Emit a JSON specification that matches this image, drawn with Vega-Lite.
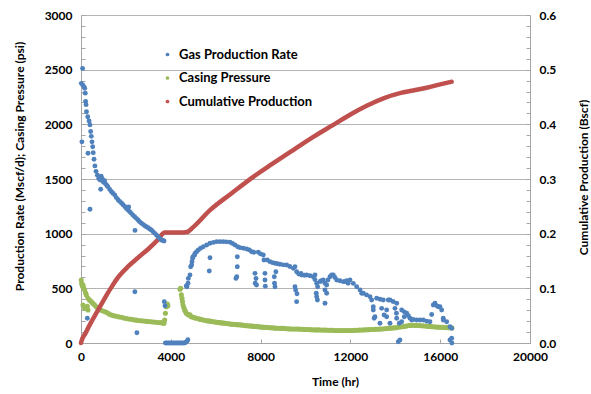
{
  "$schema": "https://vega.github.io/schema/vega-lite/v6.json",
  "autosize": {"type": "none"},
  "padding": {"left": 81, "top": 15, "right": 61, "bottom": 51},
  "width": 449,
  "height": 328,
  "config": {
    "view": {"stroke": null},
    "font": "Lato",
    "axis": {
      "labelFont": "Lato", "labelFontSize": 12, "labelFontWeight": "bold", "labelColor": "#000000",
      "titleFont": "Lato", "titleFontSize": 12, "titleFontWeight": "bold", "titleColor": "#000000",
      "domainColor": "#a6a6a6", "tickColor": "#a6a6a6", "gridColor": "#b4b4b4",
      "labelOverlap": false, "labelFlush": false
    },
    "legend": {
      "orient": "none", "legendX": 80, "legendY": 33, "padding": 0,
      "symbolType": "circle", "symbolSize": 14, "symbolStrokeWidth": 0, "labelOffset": 5,
      "labelFont": "Lato", "labelFontSize": 13, "labelFontWeight": "bold", "labelColor": "#000000",
      "rowPadding": 9.5, "title": null
    }
  },
  "datasets": {
    "rate": [
      {"t":15,"v":2375},{"t":40,"v":1840},{"t":70,"v":2510},{"t":75,"v":2360},{"t":130,"v":2345},{"t":165,"v":2330},{"t":190,"v":2285},{"t":205,"v":2210},{"t":225,"v":2180},{"t":245,"v":2115},{"t":282,"v":226},{"t":300,"v":2070},{"t":312,"v":1735},{"t":360,"v":2030},{"t":400,"v":1995},{"t":400,"v":1223},{"t":430,"v":1935},{"t":460,"v":1890},{"t":490,"v":1840},{"t":520,"v":1795},{"t":545,"v":1740},{"t":580,"v":1680},{"t":620,"v":1620},{"t":670,"v":1570},{"t":730,"v":1535},{"t":790,"v":1505},{"t":850,"v":1490},{"t":877,"v":1406},{"t":900,"v":1525},{"t":950,"v":1500},{"t":1000,"v":1470},{"t":1050,"v":1485},{"t":1100,"v":1455},{"t":1150,"v":1440},{"t":1200,"v":1430},{"t":1280,"v":1405},{"t":1350,"v":1385},{"t":1420,"v":1370},{"t":1500,"v":1355},{"t":1570,"v":1330},{"t":1650,"v":1310},{"t":1720,"v":1295},{"t":1800,"v":1280},{"t":1870,"v":1265},{"t":1950,"v":1248},{"t":2020,"v":1230},{"t":2093,"v":1216},{"t":2124,"v":1245},{"t":2170,"v":1200},{"t":2240,"v":1186},{"t":2310,"v":1170},{"t":2390,"v":1155},{"t":2405,"v":1030},{"t":2400,"v":469},{"t":2465,"v":1140},{"t":2490,"v":94},{"t":2540,"v":1125},{"t":2610,"v":1110},{"t":2690,"v":1095},{"t":2760,"v":1085},{"t":2840,"v":1073},{"t":2910,"v":1063},{"t":2985,"v":1054},{"t":3060,"v":1043},{"t":3130,"v":1033},{"t":3210,"v":1018},{"t":3285,"v":1003},{"t":3360,"v":988},{"t":3430,"v":972},{"t":3500,"v":957},{"t":3580,"v":942},{"t":3650,"v":938},{"t":3700,"v":933},{"t":3710,"v":378},{"t":3740,"v":340},
      {"t":3760,"v":0},{"t":3830,"v":0},{"t":3900,"v":0},{"t":3970,"v":0},{"t":4040,"v":0},{"t":4110,"v":0},{"t":4180,"v":0},{"t":4250,"v":0},{"t":4320,"v":0},{"t":4390,"v":0},{"t":4460,"v":0},{"t":4530,"v":0},{"t":4600,"v":0},{"t":4660,"v":5},{"t":4720,"v":15},{"t":4760,"v":30},
      {"t":4690,"v":521},{"t":4720,"v":515},{"t":4766,"v":546},{"t":4780,"v":591},{"t":4855,"v":622},{"t":4884,"v":698},{"t":4929,"v":713},{"t":4944,"v":744},{"t":4973,"v":775},{"t":4988,"v":789},{"t":5064,"v":805},{"t":5078,"v":820},{"t":5150,"v":835},{"t":5226,"v":851},{"t":5330,"v":866},{"t":5449,"v":881},{"t":5600,"v":897},{"t":5714,"v":658},{"t":5746,"v":780},{"t":5746,"v":912},{"t":5900,"v":920},{"t":6044,"v":927},{"t":6190,"v":927},{"t":6338,"v":927},{"t":6480,"v":925},{"t":6637,"v":921},{"t":6750,"v":910},{"t":6860,"v":896},{"t":6963,"v":789},{"t":6963,"v":698},{"t":6940,"v":606},{"t":6900,"v":591},{"t":6980,"v":880},{"t":7082,"v":872},{"t":7230,"v":866},{"t":7381,"v":860},{"t":7500,"v":850},{"t":7603,"v":835},{"t":7700,"v":830},{"t":7750,"v":637},{"t":7760,"v":546},{"t":7795,"v":590},{"t":7820,"v":530},{"t":7897,"v":830},{"t":8000,"v":815},{"t":8120,"v":805},{"t":8150,"v":759},{"t":8195,"v":637},{"t":8195,"v":576},{"t":8210,"v":520},{"t":8298,"v":759},{"t":8418,"v":744},{"t":8530,"v":735},{"t":8610,"v":606},{"t":8620,"v":546},{"t":8641,"v":515},{"t":8641,"v":729},{"t":8680,"v":652},{"t":8750,"v":725},{"t":8863,"v":720},{"t":9010,"v":715},{"t":9162,"v":713},{"t":9300,"v":700},{"t":9456,"v":683},{"t":9532,"v":698},{"t":9532,"v":515},{"t":9560,"v":485},{"t":9605,"v":652},{"t":9605,"v":378},{"t":9620,"v":450},{"t":9700,"v":630},{"t":9800,"v":637},{"t":9829,"v":622},{"t":9950,"v":620},{"t":10052,"v":622},{"t":10200,"v":615},{"t":10349,"v":606},{"t":10423,"v":622},{"t":10420,"v":580},{"t":10480,"v":455},{"t":10498,"v":546},{"t":10498,"v":424},{"t":10530,"v":393},{"t":10540,"v":515},{"t":10645,"v":561},{"t":10700,"v":570},{"t":10792,"v":576},{"t":10868,"v":546},{"t":10868,"v":485},{"t":10868,"v":363},{"t":10943,"v":530},{"t":10943,"v":455},{"t":11000,"v":576},{"t":11090,"v":606},{"t":11165,"v":622},{"t":11238,"v":622},{"t":11310,"v":600},{"t":11387,"v":576},{"t":11530,"v":570},{"t":11683,"v":561},{"t":11759,"v":561},{"t":11830,"v":570},{"t":11900,"v":546},{"t":11981,"v":576},{"t":12130,"v":545},{"t":12280,"v":515},{"t":12430,"v":485},{"t":12502,"v":455},{"t":12574,"v":455},{"t":12720,"v":440},{"t":12872,"v":424},{"t":12948,"v":393},{"t":13019,"v":332},{"t":13019,"v":302},{"t":13060,"v":226},{"t":13095,"v":240},{"t":13170,"v":409},{"t":13317,"v":180},{"t":13320,"v":400},{"t":13393,"v":317},{"t":13465,"v":393},{"t":13500,"v":256},{"t":13616,"v":240},{"t":13616,"v":302},{"t":13689,"v":393},{"t":13763,"v":393},{"t":13763,"v":180},{"t":13900,"v":380},{"t":13986,"v":317},{"t":14050,"v":272},{"t":14061,"v":363},{"t":14061,"v":226},{"t":14133,"v":12},{"t":14180,"v":180},{"t":14208,"v":27},{"t":14284,"v":302},{"t":14284,"v":195},{"t":14400,"v":285},{"t":14400,"v":240},{"t":14507,"v":272},{"t":14580,"v":250},{"t":14654,"v":226},{"t":14730,"v":210},{"t":14800,"v":215},{"t":14952,"v":210},{"t":15100,"v":210},{"t":15246,"v":210},{"t":15400,"v":200},{"t":15545,"v":195},{"t":15620,"v":260},{"t":15692,"v":348},{"t":15767,"v":363},{"t":15850,"v":340},{"t":15915,"v":332},{"t":15990,"v":332},{"t":16066,"v":302},{"t":16137,"v":226},{"t":16137,"v":210},{"t":16288,"v":195},{"t":16435,"v":149},{"t":16511,"v":134},{"t":16435,"v":27},{"t":16511,"v":43},{"t":16520,"v":0}
    ],
    "pres": [
      {"t":10,"v":576},{"t":30,"v":545},{"t":60,"v":520},{"t":89,"v":530},{"t":89,"v":348},{"t":120,"v":505},{"t":163,"v":485},{"t":163,"v":317},{"t":200,"v":460},{"t":238,"v":440},{"t":280,"v":335},{"t":312,"v":409},{"t":312,"v":302},{"t":380,"v":392},{"t":460,"v":378},{"t":530,"v":362},{"t":608,"v":348},{"t":680,"v":332},{"t":757,"v":317},{"t":850,"v":305},{"t":950,"v":295},{"t":1054,"v":287},{"t":1150,"v":278},{"t":1250,"v":266},{"t":1351,"v":256},{"t":1450,"v":250},{"t":1570,"v":244},{"t":1680,"v":239},{"t":1797,"v":235},{"t":1910,"v":229},{"t":2020,"v":224},{"t":2130,"v":220},{"t":2243,"v":217},{"t":2350,"v":213},{"t":2460,"v":209},{"t":2570,"v":206},{"t":2686,"v":204},{"t":2800,"v":201},{"t":2910,"v":198},{"t":3020,"v":196},{"t":3131,"v":195},{"t":3240,"v":192},{"t":3350,"v":190},{"t":3460,"v":188},{"t":3577,"v":186},{"t":3650,"v":183},{"t":3697,"v":180},{"t":3728,"v":210},{"t":3760,"v":272},{"t":3800,"v":332},{"t":3846,"v":357},{"t":3870,"v":340},
      {"t":4410,"v":491},{"t":4440,"v":500},{"t":4470,"v":440},{"t":4498,"v":409},{"t":4520,"v":380},{"t":4543,"v":348},{"t":4580,"v":325},{"t":4618,"v":302},{"t":4650,"v":290},{"t":4690,"v":272},{"t":4760,"v":262},{"t":4800,"v":255},{"t":4855,"v":258},{"t":4913,"v":240},{"t":5000,"v":236},{"t":5070,"v":230},{"t":5135,"v":226},{"t":5250,"v":222},{"t":5320,"v":216},{"t":5400,"v":212},{"t":5500,"v":208},{"t":5598,"v":204},{"t":5680,"v":202},{"t":5750,"v":200},{"t":5820,"v":196},{"t":5900,"v":194},{"t":5980,"v":192},{"t":6050,"v":190},{"t":6120,"v":188},{"t":6191,"v":186},{"t":6270,"v":184},{"t":6350,"v":182},{"t":6420,"v":180},{"t":6500,"v":178},{"t":6580,"v":176},{"t":6650,"v":174},{"t":6720,"v":172},{"t":6784,"v":171},{"t":6870,"v":169},{"t":6950,"v":168},{"t":7030,"v":167},{"t":7100,"v":166},{"t":7170,"v":164},{"t":7230,"v":162},{"t":7310,"v":160},{"t":7381,"v":158},{"t":7470,"v":157},{"t":7550,"v":156},{"t":7620,"v":154},{"t":7700,"v":152},{"t":7780,"v":151},{"t":7850,"v":150},{"t":7920,"v":148},{"t":8000,"v":146},{"t":8060,"v":145},{"t":8120,"v":144},{"t":8210,"v":143},{"t":8300,"v":142},{"t":8380,"v":141},{"t":8450,"v":140},{"t":8550,"v":138},{"t":8650,"v":136},{"t":8750,"v":135},{"t":8863,"v":134},{"t":8940,"v":134},{"t":9010,"v":134},{"t":9100,"v":132},{"t":9200,"v":130},{"t":9300,"v":129},{"t":9400,"v":128},{"t":9500,"v":128},{"t":9605,"v":128},{"t":9700,"v":127},{"t":9800,"v":126},{"t":9900,"v":125},{"t":10000,"v":124},{"t":10100,"v":123},{"t":10200,"v":122},{"t":10300,"v":121},{"t":10400,"v":120},{"t":10500,"v":120},{"t":10600,"v":120},{"t":10700,"v":119},{"t":10800,"v":118},{"t":10900,"v":118},{"t":11000,"v":117},{"t":11100,"v":116},{"t":11200,"v":116},{"t":11300,"v":115},{"t":11400,"v":115},{"t":11500,"v":115},{"t":11600,"v":115},{"t":11700,"v":114},{"t":11800,"v":114},{"t":11900,"v":114},{"t":12000,"v":114},{"t":12100,"v":115},{"t":12200,"v":116},{"t":12300,"v":117},{"t":12400,"v":118},{"t":12500,"v":119},{"t":12600,"v":120},{"t":12700,"v":121},{"t":12800,"v":122},{"t":12900,"v":123},{"t":13000,"v":124},{"t":13100,"v":125},{"t":13200,"v":126},{"t":13300,"v":127},{"t":13400,"v":128},{"t":13500,"v":130},{"t":13600,"v":132},{"t":13700,"v":134},{"t":13800,"v":136},{"t":13900,"v":138},{"t":14000,"v":140},{"t":14100,"v":143},{"t":14200,"v":146},{"t":14300,"v":149},{"t":14400,"v":152},{"t":14500,"v":156},{"t":14600,"v":160},{"t":14700,"v":161},{"t":14800,"v":162},{"t":14900,"v":161},{"t":15000,"v":160},{"t":15100,"v":159},{"t":15200,"v":158},{"t":15300,"v":156},{"t":15400,"v":154},{"t":15500,"v":152},{"t":15600,"v":150},{"t":15700,"v":148},{"t":15800,"v":146},{"t":15900,"v":145},{"t":16000,"v":144},{"t":16100,"v":143},{"t":16200,"v":142},{"t":16300,"v":141},{"t":16400,"v":140},{"t":16520,"v":138}
    ],
    "cum": [
      {"t":0,"c":0},{"t":13,"c":0.0024},{"t":200,"c":0.018},{"t":400,"c":0.034},{"t":757,"c":0.06},{"t":1100,"c":0.085},{"t":1400,"c":0.105},{"t":1648,"c":0.12},{"t":2100,"c":0.14},{"t":2539,"c":0.156},{"t":3000,"c":0.172},{"t":3430,"c":0.189},{"t":3728,"c":0.202},{"t":4000,"c":0.202},{"t":4400,"c":0.202},{"t":4720,"c":0.203},{"t":5000,"c":0.212},{"t":5746,"c":0.243},{"t":6712,"c":0.274},{"t":7674,"c":0.304},{"t":8500,"c":0.327},{"t":9456,"c":0.353},{"t":10347,"c":0.377},{"t":11238,"c":0.399},{"t":12000,"c":0.418},{"t":12725,"c":0.434},{"t":13500,"c":0.448},{"t":14208,"c":0.457},{"t":14800,"c":0.462},{"t":15398,"c":0.467},{"t":16000,"c":0.473},{"t":16511,"c":0.478}
    ]
  },
  "layer": [
    {
      "data": {"name": "pres"},
      "mark": {"type": "point", "filled": true, "opacity": 1, "size": 26},
      "encoding": {
        "x": {"field": "t", "type": "quantitative", "scale": {"domain": [0, 20000], "nice": false},
          "axis": {"values": [0, 4000, 8000, 12000, 16000, 20000], "format": "d", "grid": false, "tickSize": -4, "labelPadding": 12, "title": "Time (hr)", "titleX": 254, "titleY": 38, "titleBaseline": "middle"}},
        "y": {"field": "v", "type": "quantitative", "scale": {"domain": [0, 3000], "nice": false},
          "axis": {"orient": "left", "values": [0,100,200,300,400,500,600,700,800,900,1000,1100,1200,1300,1400,1500,1600,1700,1800,1900,2000,2100,2200,2300,2400,2500,2600,2700,2800,2900,3000],
            "labelExpr": "datum.value % 500 === 0 ? datum.label : ''", "format": "d",
            "grid": true, "gridOpacity": {"condition": {"test": "datum.value % 500 === 0", "value": 1}, "value": 0},
            "tickSize": -4, "labelPadding": 13,
            "title": "Production Rate (Mscf/d); Casing Pressure (psi)", "titleAngle": 270, "titleX": -62, "titleY": 151, "titleBaseline": "middle"}},
        "color": {"datum": "Casing Pressure", "type": "nominal",
          "scale": {"domain": ["Gas Production Rate", "Casing Pressure", "Cumulative Production"], "range": ["#4F81BD", "#9BBB59", "#C0504D"]}}
      }
    },
    {
      "data": {"name": "cum"},
      "mark": {"type": "line", "strokeWidth": 4.5, "strokeCap": "round", "strokeJoin": "round", "interpolate": "monotone"},
      "encoding": {
        "x": {"field": "t", "type": "quantitative", "scale": {"domain": [0, 20000], "nice": false},
          "axis": {"values": [0, 4000, 8000, 12000, 16000, 20000], "format": "d", "grid": false, "tickSize": -4, "labelPadding": 12, "title": "Time (hr)", "titleX": 254, "titleY": 38, "titleBaseline": "middle"}},
        "y": {"field": "c", "type": "quantitative", "scale": {"domain": [0, 0.6], "nice": false},
          "axis": {"orient": "right", "values": [0,0.02,0.04,0.06,0.08,0.1,0.12,0.14,0.16,0.18,0.2,0.22,0.24,0.26,0.28,0.3,0.32,0.34,0.36,0.38,0.4,0.42,0.44,0.46,0.48,0.5,0.52,0.54,0.56,0.58,0.6],
            "labelExpr": "indexof(['0','0.1','0.2','0.3','0.4','0.5','0.6'], toString(datum.value)) >= 0 ? format(datum.value, '.1f') : ''",
            "grid": false, "tickSize": -4, "labelPadding": 13,
            "title": "Cumulative Production (Bscf)", "titleAngle": 270, "titleX": 53, "titleY": 162, "titleBaseline": "middle"}},
        "color": {"datum": "Cumulative Production", "type": "nominal",
          "scale": {"domain": ["Gas Production Rate", "Casing Pressure", "Cumulative Production"], "range": ["#4F81BD", "#9BBB59", "#C0504D"]}}
      }
    },
    {
      "data": {"name": "rate"},
      "mark": {"type": "point", "filled": true, "opacity": 1, "size": 24},
      "encoding": {
        "x": {"field": "t", "type": "quantitative", "scale": {"domain": [0, 20000], "nice": false},
          "axis": {"values": [0, 4000, 8000, 12000, 16000, 20000], "format": "d", "grid": false, "tickSize": -4, "labelPadding": 12, "title": "Time (hr)", "titleX": 254, "titleY": 38, "titleBaseline": "middle"}},
        "y": {"field": "v", "type": "quantitative", "scale": {"domain": [0, 3000], "nice": false}, "axis": null},
        "color": {"datum": "Gas Production Rate", "type": "nominal",
          "scale": {"domain": ["Gas Production Rate", "Casing Pressure", "Cumulative Production"], "range": ["#4F81BD", "#9BBB59", "#C0504D"]}}
      }
    }
  ],
  "resolve": {"scale": {"y": "independent"}}
}
